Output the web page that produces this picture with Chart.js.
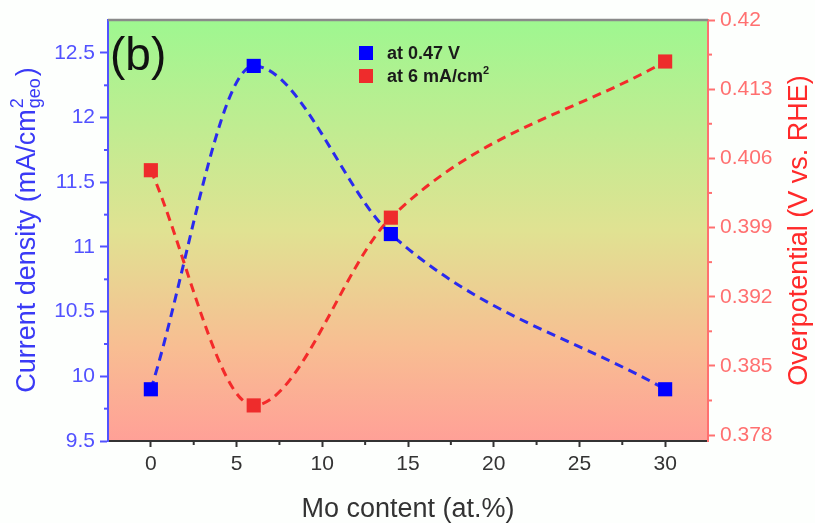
<!DOCTYPE html>
<html>
<head>
<meta charset="utf-8">
<script src="https://cdn.jsdelivr.net/npm/chart.js@4/dist/chart.umd.min.js"></script>
<style>
  html, body { margin: 0; padding: 0; background: #fdfffd; }
  canvas { display: block; }
</style>
</head>
<body>
<canvas id="grafica" width="815" height="523"></canvas>
<script>
// Datos
const moContent = [0, 6, 14, 30];
const currentDensity = [9.9, 12.4, 11.1, 9.9];
const overpotential = [0.4048, 0.381, 0.4, 0.4158];

const xTicks = [0, 5, 10, 15, 20, 25, 30];
const xMinor = [2.5, 7.5, 12.5, 17.5, 22.5, 27.5];
const leftTicks = [9.5, 10, 10.5, 11, 11.5, 12, 12.5];
const leftMinor = [9.75, 10.25, 10.75, 11.25, 11.75, 12.25];
const rightTicks = [0.378, 0.385, 0.392, 0.399, 0.406, 0.413, 0.42];
const rightMinor = [0.3815, 0.3885, 0.3955, 0.4025, 0.4095, 0.4165];

const FONT = "'Liberation Sans', Arial, sans-serif";
const BLUE = "#0000ff";
const RED = "#ee2c2c";
const BLUE_AXIS = "#5252ff";
const RED_AXIS = "#ff7070";

const puntos = (ys) => moContent.map((x, i) => ({ x: x, y: ys[i] }));
const fijarTicks = (lista) => (scale) => {
  scale.ticks = lista.map((v) => ({ value: v }));
};

// Fondo degradado del área de la gráfica
const fondo = {
  id: "fondo",
  beforeDraw(chart) {
    const { ctx, chartArea: a } = chart;
    const g = ctx.createLinearGradient(0, a.top, 0, a.bottom);
    g.addColorStop(0, "#9ef790");
    g.addColorStop(0.5, "#e0e292");
    g.addColorStop(0.78, "#f8bd92");
    g.addColorStop(1, "#ffa097");
    ctx.save();
    ctx.fillStyle = g;
    ctx.fillRect(a.left, a.top, a.right - a.left, a.bottom - a.top);
    ctx.restore();
  },
};

// Marco, ticks menores, títulos, leyenda y etiqueta (b)
const extras = {
  id: "extras",
  afterDraw(chart) {
    const { ctx, chartArea: a, scales } = chart;
    ctx.save();

    // borde superior
    ctx.strokeStyle = "#8a8a8a";
    ctx.lineWidth = 2.5;
    ctx.beginPath();
    ctx.moveTo(a.left, a.top);
    ctx.lineTo(a.right, a.top);
    ctx.stroke();

    // ticks menores
    ctx.lineWidth = 2;
    ctx.strokeStyle = "#333";
    xMinor.forEach((v) => {
      const px = scales.x.getPixelForValue(v);
      ctx.beginPath();
      ctx.moveTo(px, a.bottom);
      ctx.lineTo(px, a.bottom + 4);
      ctx.stroke();
    });
    ctx.strokeStyle = BLUE_AXIS;
    leftMinor.forEach((v) => {
      const py = scales.y.getPixelForValue(v);
      ctx.beginPath();
      ctx.moveTo(a.left, py);
      ctx.lineTo(a.left - 4, py);
      ctx.stroke();
    });
    ctx.strokeStyle = RED_AXIS;
    rightMinor.forEach((v) => {
      const py = scales.y1.getPixelForValue(v);
      ctx.beginPath();
      ctx.moveTo(a.right, py);
      ctx.lineTo(a.right + 4, py);
      ctx.stroke();
    });

    // título eje izquierdo con super y subíndice
    const big = "27px " + FONT;
    const small = "18px " + FONT;
    const parte1 = "Current density (mA/cm";
    ctx.font = big;
    const w1 = ctx.measureText(parte1).width;
    const wCierre = ctx.measureText(")").width;
    ctx.font = small;
    const wSup = ctx.measureText("2").width;
    const wSub = ctx.measureText("geo").width;
    const wMid = Math.max(wSup, wSub) + 2;
    const total = w1 + wMid + wCierre;
    ctx.translate(35, (a.top + a.bottom) / 2);
    ctx.rotate(-Math.PI / 2);
    ctx.fillStyle = "#3a3af6";
    ctx.textBaseline = "alphabetic";
    ctx.textAlign = "left";
    let xx = -total / 2;
    ctx.font = big;
    ctx.fillText(parte1, xx, 0);
    xx += w1 + 1;
    ctx.font = small;
    ctx.fillText("2", xx, -12);
    ctx.fillText("geo", xx, 5);
    xx += wMid;
    ctx.font = big;
    ctx.fillText(")", xx, 0);
    ctx.setTransform(1, 0, 0, 1, 0, 0);

    // título eje derecho
    ctx.translate(807, (a.top + a.bottom) / 2);
    ctx.rotate(-Math.PI / 2);
    ctx.fillStyle = "#ff2a2a";
    ctx.textAlign = "center";
    ctx.font = big;
    ctx.fillText("Overpotential (V vs. RHE)", 0, 0);
    ctx.setTransform(1, 0, 0, 1, 0, 0);

    // título eje x
    ctx.fillStyle = "#333";
    ctx.textAlign = "center";
    ctx.font = big;
    ctx.fillText("Mo content (at.%)", (a.left + a.right) / 2, 517);

    // etiqueta (b)
    ctx.fillStyle = "#111";
    ctx.textAlign = "left";
    ctx.font = "46px " + FONT;
    ctx.fillText("(b)", 110, 70);

    // leyenda
    const sets = chart.data.datasets;
    const fila = [53, 76];
    ctx.textBaseline = "middle";
    sets.forEach((ds, i) => {
      ctx.fillStyle = ds.pointBackgroundColor;
      ctx.fillRect(359, fila[i] - 7, 14, 14);
      ctx.fillStyle = "#1a1a1a";
      ctx.font = "bold 18px " + FONT;
      ctx.fillText(ds.label, 387, fila[i] + 1);
      if (ds.labelSup) {
        const w = ctx.measureText(ds.label).width;
        ctx.font = "bold 11px " + FONT;
        ctx.fillText(ds.labelSup, 387 + w, fila[i] - 5);
      }
    });

    ctx.restore();
  },
};

new Chart(document.getElementById("grafica"), {
  type: "line",
  data: {
    datasets: [
      {
        label: "at 0.47 V",
        data: puntos(currentDensity),
        yAxisID: "y",
        borderColor: "#2a2aee",
        borderWidth: 3,
        borderDash: [9, 6],
        cubicInterpolationMode: "monotone",
        pointStyle: "rect",
        pointRadius: 10,
        pointBorderWidth: 0,
        pointBackgroundColor: BLUE,
        fill: false,
      },
      {
        label: "at 6 mA/cm",
        labelSup: "2",
        data: puntos(overpotential),
        yAxisID: "y1",
        borderColor: "#f42a2a",
        borderWidth: 3,
        borderDash: [9, 6],
        cubicInterpolationMode: "monotone",
        pointStyle: "rect",
        pointRadius: 10,
        pointBorderWidth: 0,
        pointBackgroundColor: RED,
        fill: false,
      },
    ],
  },
  options: {
    responsive: false,
    devicePixelRatio: 1,
    animation: false,
    layout: { padding: { top: 20, left: 0, right: 0, bottom: 0 } },
    plugins: {
      legend: { display: false },
      tooltip: { enabled: false },
    },
    scales: {
      x: {
        type: "linear",
        min: -2.5,
        max: 32.5,
        afterBuildTicks: fijarTicks(xTicks),
        afterFit: (s) => { s.height = 82; },
        grid: { drawOnChartArea: false, tickLength: 6, tickColor: "#333", tickWidth: 2 },
        border: { color: "#333", width: 2 },
        ticks: {
          autoSkip: false,
          maxRotation: 0,
          padding: 5,
          color: "#333",
          font: { size: 21, family: FONT },
          callback: (v) => String(v),
        },
      },
      y: {
        position: "left",
        min: 9.5,
        max: 12.755,
        afterBuildTicks: fijarTicks(leftTicks),
        afterFit: (s) => { s.width = 108; },
        grid: { drawOnChartArea: false, tickLength: 8, tickColor: BLUE_AXIS, tickWidth: 2 },
        border: { color: BLUE_AXIS, width: 2 },
        ticks: {
          autoSkip: false,
          padding: 5,
          color: BLUE_AXIS,
          font: { size: 21, family: FONT },
          callback: (v) => String(v),
        },
      },
      y1: {
        position: "right",
        min: 0.3774,
        max: 0.42,
        afterBuildTicks: fijarTicks(rightTicks),
        afterFit: (s) => { s.width = 107; },
        grid: { drawOnChartArea: false, tickLength: 7, tickColor: RED_AXIS, tickWidth: 2 },
        border: { color: RED_AXIS, width: 2 },
        ticks: {
          autoSkip: false,
          padding: 5,
          color: RED_AXIS,
          font: { size: 21, family: FONT },
          callback: (v) => String(parseFloat(v.toFixed(3))),
        },
      },
    },
  },
  plugins: [fondo, extras],
});
</script>
</body>
</html>
